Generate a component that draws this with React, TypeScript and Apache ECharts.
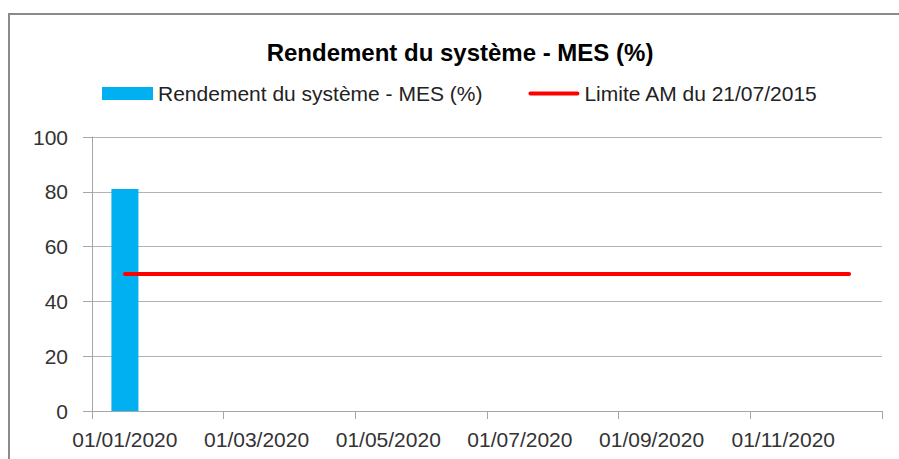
import React, { useEffect, useRef } from "react";
import * as echarts from "echarts";

const months = [
  "01/01/2020", "01/02/2020", "01/03/2020", "01/04/2020", "01/05/2020", "01/06/2020",
  "01/07/2020", "01/08/2020", "01/09/2020", "01/10/2020", "01/11/2020", "01/12/2020",
];
const rendement = [81, null, null, null, null, null, null, null, null, null, null, null];
const limite = [50, 50, 50, 50, 50, 50, 50, 50, 50, 50, 50, 50];
const yTicks = { min: 0, max: 100, interval: 20 };

const TITLE = "Rendement du système - MES (%)";
const SERIES_BAR = "Rendement du système - MES (%)";
const SERIES_LINE = "Limite AM du 21/07/2015";
const FONT = "'Liberation Sans', Arial, sans-serif";
const LINE_ICON = "path://M2,0 L52,0 A2,2 0 0 1 52,4 L2,4 A2,2 0 0 1 2,0 Z";

export default function App() {
  const ref = useRef<HTMLDivElement>(null);
  useEffect(() => {
    if (!ref.current) return;
    const chart = echarts.init(ref.current, null, { renderer: "svg" });
    chart.setOption({
      animation: false,
      backgroundColor: "#ffffff",
      textStyle: { fontFamily: FONT },
      title: {
        text: TITLE,
        left: 455,
        top: 35,
        textAlign: "center",
        textStyle: { fontFamily: FONT, fontSize: 24, fontWeight: "bold", color: "#000000" },
      },
      legend: {
        left: 97,
        top: 78,
        itemWidth: 51,
        itemHeight: 13,
        itemGap: 46,
        textStyle: { fontFamily: FONT, fontSize: 21, color: "#222222" },
        data: [
          { name: SERIES_BAR, icon: "rect" },
          { name: SERIES_LINE, icon: LINE_ICON },
        ],
      },
      graphic: [
        {
          type: "rect",
          shape: { x: 9, y: 14, width: 1200, height: 1200 },
          style: { fill: "none", stroke: "#8a8a8a", lineWidth: 2 },
          silent: true,
          z: 100,
        },
      ],
      grid: { left: 92, right: 17, top: 137, bottom: 48 },
      xAxis: {
        type: "category",
        data: months,
        boundaryGap: true,
        axisLine: { lineStyle: { color: "#a6a6a6", width: 1 } },
        axisTick: { show: true, interval: 1, length: 8, lineStyle: { color: "#a6a6a6" } },
        axisLabel: {
          interval: 1,
          margin: 18,
          fontFamily: FONT,
          fontSize: 21,
          color: "#333333",
        },
        splitLine: { show: false },
      },
      yAxis: {
        type: "value",
        min: yTicks.min,
        max: yTicks.max,
        interval: yTicks.interval,
        axisLine: { show: true, lineStyle: { color: "#a6a6a6", width: 1 } },
        axisTick: { show: true, length: 9, lineStyle: { color: "#a6a6a6" } },
        axisLabel: { margin: 24, fontFamily: FONT, fontSize: 21, color: "#333333" },
        splitLine: { show: true, lineStyle: { color: "#b3b3b3", width: 1 } },
      },
      series: [
        {
          name: SERIES_BAR,
          type: "bar",
          data: rendement,
          barWidth: 27,
          itemStyle: { color: "#00b0f0" },
        },
        {
          name: SERIES_LINE,
          type: "line",
          data: limite,
          symbol: "none",
          lineStyle: { color: "#ff0000", width: 4, cap: "round" },
          itemStyle: { color: "#ff0000" },
          z: 3,
        },
      ],
    });
    return () => chart.dispose();
  }, []);
  return (
    <div
      ref={ref}
      style={{ position: "fixed", left: 0, top: 0, width: 899, height: 459 }}
    />
  );
}
